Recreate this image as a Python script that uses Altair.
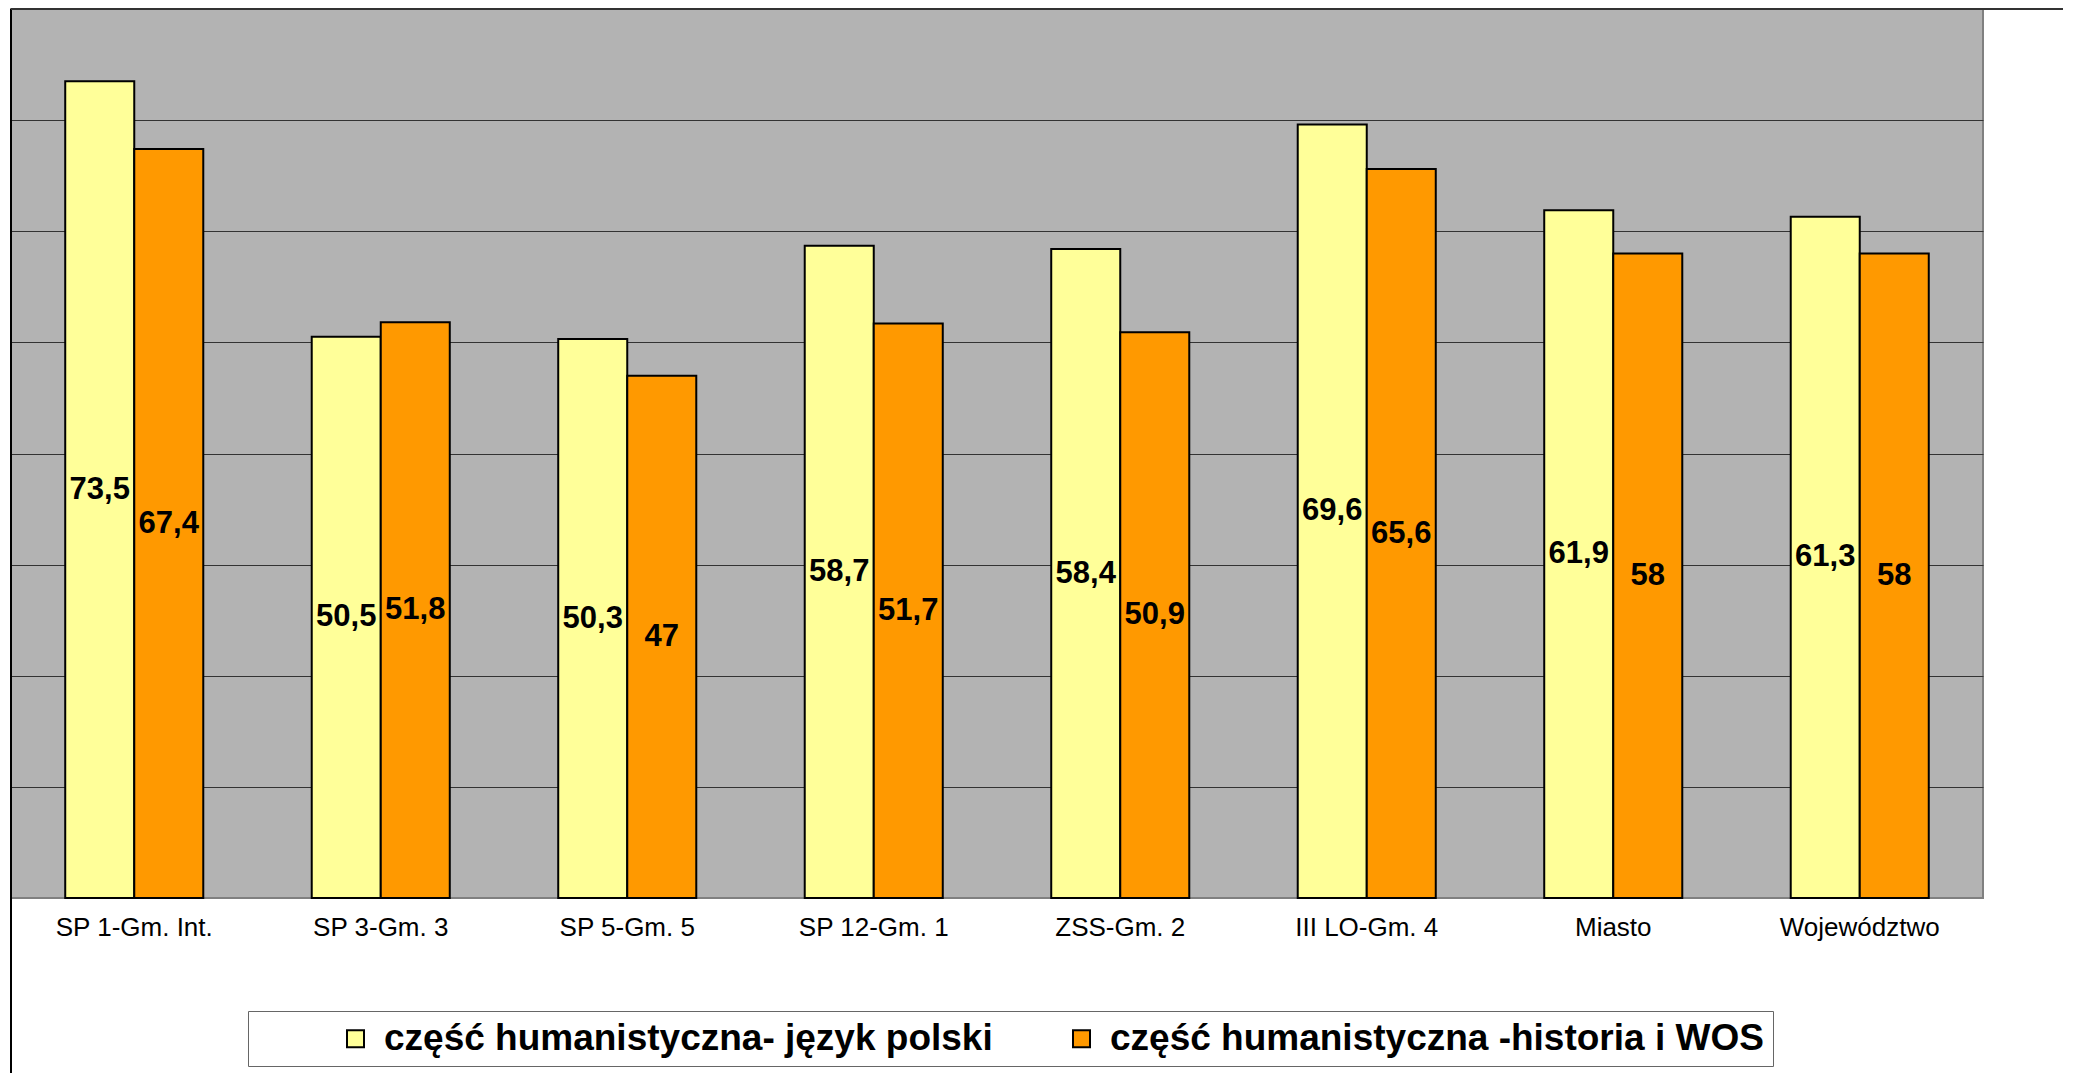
import altair as alt
import pandas as pd

categories = ["SP 1-Gm. Int.", "SP 3-Gm. 3", "SP 5-Gm. 5", "SP 12-Gm. 1",
              "ZSS-Gm. 2", "III LO-Gm. 4", "Miasto", "Województwo"]
series_names = ["część humanistyczna- język polski",
                "część humanistyczna -historia i WOS"]
polski = [73.5, 50.5, 50.3, 58.7, 58.4, 69.6, 61.9, 61.3]
historia = [67.4, 51.8, 47, 51.7, 50.9, 65.6, 58, 58]
colors = ["#FFFF99", "#FF9900"]
grid_values = [10, 20, 30, 40, 50, 60, 70]

rows = []
for c, p, h in zip(categories, polski, historia):
    rows.append({"kategoria": c, "seria": series_names[0], "wartosc": p})
    rows.append({"kategoria": c, "seria": series_names[1], "wartosc": h})
df = pd.DataFrame(rows)

W, H = 1972, 889
FONT = "Liberation Sans"

x_enc = alt.X(
    "kategoria:N", sort=categories,
    scale=alt.Scale(paddingInner=0.44, paddingOuter=0.22),
    axis=alt.Axis(title=None, labelAngle=0, labelFont=FONT, labelFontSize=26,
                  labelColor="black", labelPadding=16, ticks=False,
                  domain=False, grid=False),
)
xo_enc = alt.XOffset("seria:N", sort=series_names,
                     scale=alt.Scale(paddingInner=0, paddingOuter=0))
y_enc = alt.Y(
    "wartosc:Q", scale=alt.Scale(domain=[0, 80], nice=False),
    axis=alt.Axis(title=None, values=grid_values, labels=False, ticks=False,
                  domain=False, grid=True, gridColor="#333333", gridWidth=1),
)
color_enc = alt.Color(
    "seria:N", sort=series_names,
    scale=alt.Scale(domain=series_names, range=colors),
    legend=alt.Legend(
        title=" ", titleOrient="left", titlePadding=80, titleFontSize=10,
        orient="none", legendX=237, legendY=1002, direction="horizontal",
        fillColor="white", strokeColor="#666666", padding=9,
        labelFont=FONT, labelFontSize=37, labelFontWeight="bold",
        labelColor="black", labelLimit=1000,
        symbolType="square", symbolSize=289, symbolStrokeColor="black",
        symbolStrokeWidth=2, labelOffset=10, columnPadding=70,
    ),
)

base = alt.Chart(df)
bars = base.mark_bar(stroke="black", strokeWidth=2).encode(
    x=x_enc, xOffset=xo_enc, y=y_enc, color=color_enc
)
labels = base.transform_calculate(
    mid="datum.wartosc / 2",
    lab="replace(format(datum.wartosc, '.1~f'), '.', ',')",
).mark_text(font=FONT, fontSize=31, fontWeight="bold", color="black",
            baseline="middle").encode(
    x=alt.X("kategoria:N", sort=categories),
    xOffset=alt.XOffset("seria:N", sort=series_names),
    y=alt.Y("mid:Q"),
    text="lab:N",
)

one = pd.DataFrame({"a": [0]})
frame_left = alt.Chart(one).mark_rule(color="black", strokeWidth=2).encode(
    x=alt.value(0), y=alt.value(0), y2=alt.value(H + 180)
)
frame_top = alt.Chart(one).mark_rule(color="#333333", strokeWidth=2).encode(
    x=alt.value(0), x2=alt.value(W + 100), y=alt.value(0)
)

chart = alt.layer(bars, labels, frame_left, frame_top).properties(
    width=W, height=H,
    padding={"left": 3, "top": 1, "right": 80, "bottom": 175},
    autosize=alt.AutoSizeParams(type="none"),
    background="white",
).configure_view(
    fill="#B3B3B3", stroke="#808080", strokeWidth=2
)

chart.save("out.html", embed_options={"renderer": "svg", "actions": False})
